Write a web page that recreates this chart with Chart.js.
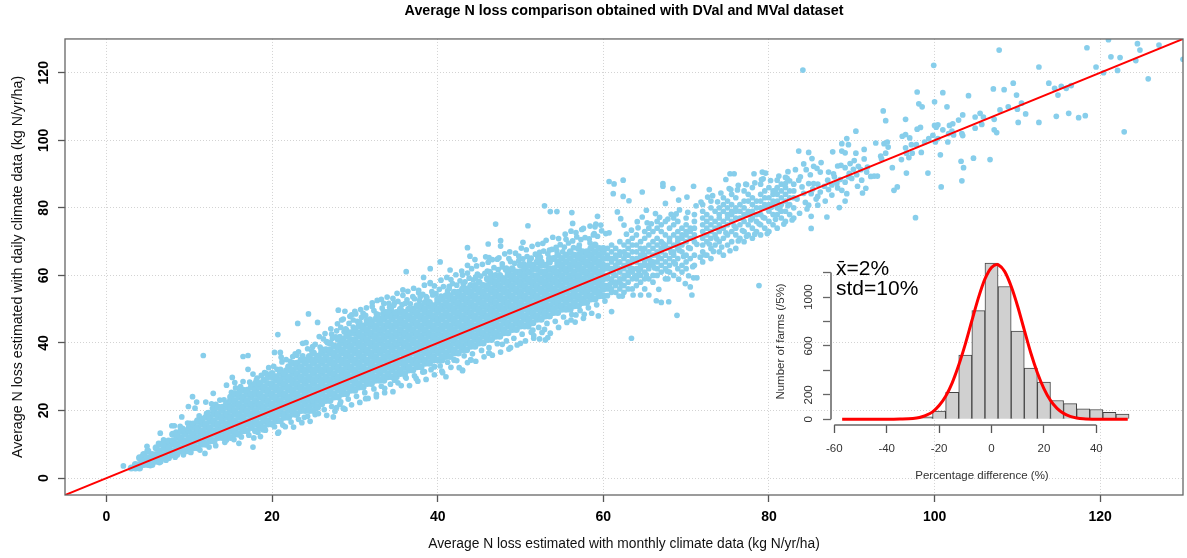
<!DOCTYPE html>
<html><head><meta charset="utf-8">
<style>html,body{margin:0;padding:0;background:#fff;overflow:hidden}#m{position:absolute;left:0;top:0}#i{position:absolute;left:760px;top:250px}</style>
<script src="https://cdn.jsdelivr.net/npm/chart.js@4"></script>
</head><body>
<canvas id="m" width="1187" height="558"></canvas>
<canvas id="i" width="400" height="240"></canvas>
<script>
const titleText="Average N loss comparison obtained with DVal and MVal dataset";
const xTitle="Average N loss estimated with monthly climate data (kg N/yr/ha)";
const yTitle="Average N loss estimated with daily climate data (kg N/yr/ha)";
const mainXTicks=[0,20,40,60,80,100,120];
const mainYTicks=[0,20,40,60,80,100,120];
const refX=[-5,130];
const refY=[-5,130];
// dense cloud, read column by column: [x, y, y, ...]
const bandColumns=[
[3,3],[3.5,3,4],[4,3,4,6],[4.5,4,5,7],[5,4,5,6,8],[5.5,4,6,7],[6,5,6,7,9],[6.5,5,7,8,10],[7,6,7,9,10],[7.5,6,8,9,11],
[8,7,8,10,11,13],[8.5,7,9,10,12,13],[9,8,9,11,12,14],[9.5,8,10,11,13,14],[10,8,9,11,12,14,15],[10.5,9,10,12,13,15,16],
[11,9,11,12,14,15,17],[11.5,10,11,13,14,16,17],[12,10,12,13,15,16,18],[12.5,11,12,14,15,17,18],[13,11,13,14,16,17,19,20],
[13.5,12,13,15,16,18,19,21],[14,12,14,15,17,18,20,21],[14.5,12,13,15,16,18,19,21,22],[15,12,14,15,17,18,20,21,23,24],
[15.5,13,14,16,17,19,20,22,23,25],[16,13,15,16,18,19,21,22,24,25],[16.5,14,15,17,18,20,21,23,24,26],[17,14,16,17,19,20,22,23,25,26],
[17.5,15,16,18,19,21,22,24,25,27],[18,14,16,17,19,20,22,23,25,26,28],[18.5,15,16,18,19,21,22,24,25,27,28],[19,15,17,18,20,21,23,24,26,27,29],
[19.5,16,17,19,20,22,23,25,26,28,30],[20,16,18,19,21,22,24,25,27,28,30,31],[20.5,17,18,20,21,23,24,26,27,29,30],[21,17,19,20,22,23,25,26,28,29,31,32],
[21.5,18,19,21,22,24,25,27,28,30,31],[22,18,20,21,23,24,26,27,29,30,32,33],[22.5,19,20,22,23,25,26,28,29,31,32,34],[23,19,21,22,24,25,27,28,30,31,33,34],
[23.5,20,21,23,24,26,27,29,30,32,33,35],[24,20,22,23,25,26,28,29,31,32,34,35],[24.5,20,21,23,24,26,27,29,30,32,33,35,36],[25,20,22,23,25,26,28,29,31,32,34,35,37],
[25.5,21,23,24,26,27,29,30,32,33,35,36],[26,22,23,25,26,28,29,31,32,34,35,37,38],[26.5,23,24,26,27,29,30,32,33,35,36,38],[27,23,25,26,28,29,31,32,34,35,37,38,40],
[27.5,24,25,27,28,30,31,33,34,36,37,39],[28,24,26,27,29,30,32,33,35,36,38,39,41],[28.5,25,26,28,29,31,32,34,35,37,38,40,41],[29,25,27,28,30,31,33,34,36,37,39,40,42],
[29.5,26,27,29,30,32,33,35,36,38,39,41,43],[30,26,28,29,31,32,34,35,37,38,40,41,43,44],[30.5,27,28,30,31,33,34,36,37,39,40,42,43,45],[31,27,29,30,32,33,35,36,38,39,41,42,44,45],
[31.5,28,29,31,32,34,35,37,38,40,41,43,44,46],[32,28,30,31,33,34,36,37,39,40,42,43,45,46],[32.5,29,30,32,33,35,36,38,39,41,42,44,45,47],[33,29,31,32,34,35,37,38,40,41,43,44,46,47],
[33.5,29,30,32,33,35,36,38,39,41,42,44,45,47,48],[34,30,31,33,34,36,37,39,40,42,43,45,46,48,49],[34.5,30,32,33,35,36,38,39,41,42,44,45,47,48],[35,30,31,33,34,36,37,39,40,42,43,45,46,48,49],
[35.5,31,32,34,35,37,38,40,41,43,44,46,47,49,50],[36,31,33,34,36,37,39,40,42,43,45,46,48,49],[36.5,32,33,35,36,38,39,41,42,44,45,47,48,50],[37,32,34,35,37,38,40,41,43,44,46,47,49,50],
[37.5,33,34,36,37,39,40,42,43,45,46,48,49,51],[38,33,35,36,38,39,41,42,44,45,47,48,50,51],[38.5,34,35,37,38,40,41,43,44,46,47,49,50,52],[39,34,36,37,39,40,42,43,45,46,48,49,51,52],
[39.5,35,36,38,39,41,42,44,45,47,48,50,51],[40,35,37,38,40,41,43,44,46,47,49,50,52,53],[40.5,35,36,38,39,41,42,44,45,47,48,50,51,53],[41,36,37,39,40,42,43,45,46,48,49,51,52,54],
[41.5,36,38,39,41,42,44,45,47,48,50,51,53,54],[42,37,38,40,41,43,44,46,47,49,50,52,53,55],[42.5,37,39,40,42,43,45,46,48,49,51,52,54,55],[43,38,39,41,42,44,45,47,48,50,51,53,54,56],
[43.5,38,40,41,43,44,46,47,49,50,52,53,55,56],[44,39,40,42,43,45,46,48,49,51,52,54,55,57],[44.5,39,41,42,44,45,47,48,50,51,53,54,56,57],[45,40,41,43,44,46,47,49,50,52,53,55,56,58],
[45.5,40,42,43,45,46,48,49,51,52,54,55,57],[46,41,42,44,45,47,48,50,51,53,54,56,57,59],[46.5,41,43,44,46,47,49,50,52,53,55,56,58,59],[47,42,43,45,46,48,49,51,52,54,55,57,58,60],
[47.5,42,44,45,47,48,50,51,53,54,56,57,59,60],[48,43,44,46,47,49,50,52,53,55,56,58,59],[48.5,43,45,46,48,49,51,52,54,55,57,58,60,61],[49,44,45,47,48,50,51,53,54,56,57,59,60,62],
[49.5,44,46,47,49,50,52,53,55,56,58,59,61],[50,45,46,48,49,51,52,54,55,57,58,60,61,63],[50.5,45,47,48,50,51,53,54,56,57,59,60,62],[51,46,47,49,50,52,53,55,56,58,59,61,63],
[51.5,46,48,49,51,52,54,55,57,58,60,62,63],[52,47,48,50,51,53,54,56,57,59,60,62,64],[52.5,47,49,50,52,53,55,56,58,59,61,63,64],[53,48,49,51,52,54,55,57,58,60,61,63],
[53.5,48,50,51,53,54,56,57,59,60,62,64,65],[54,49,50,52,53,55,56,58,59,61,62,65],[54.5,49,51,52,54,55,57,58,60,61,63,64,66],[55,50,51,53,54,56,57,59,60,62,63,65],
[55.5,50,52,53,55,56,58,59,61,62,64,66],[56,50,51,53,54,56,57,59,60,62,63,65,67],[56.5,51,52,54,55,57,58,60,61,63,64,66],[57,51,53,54,56,57,59,60,62,63,65,66,68],
[57.5,52,53,55,56,58,59,61,62,64,65,67],[58,52,54,55,57,58,60,61,63,64,66,67],[58.5,53,54,56,57,59,60,62,63,65,66,68],[59,53,55,56,58,59,61,62,64,65,67,69],
[59.5,54,55,57,58,60,61,63,64,66,68],[60,54,56,57,59,60,62,63,65,67,68]
];
const sparseColumns=[
[60.5,54,56,57,59,60,62,63,65,66,68],[61,55,56,58,59,61,62,64,65,67,69],[61.5,55,57,58,60,62,63,65,66,68],[62,56,58,59,61,62,64,66,67,70],[62.5,55,57,59,60,62,63,65,67,69],
[63,56,58,60,61,63,64,66,68,70],[63.5,56,59,61,62,64,65,67,69,71],[64,57,59,60,62,64,65,67,69,72],[64.5,58,60,62,63,65,66,68,70],[65,56,59,61,63,64,66,68,71,73],
[65.5,59,62,63,65,67,69,72,74],[66,58,60,63,64,66,68,70,73],[66.5,60,62,64,66,67,69,71,74,76],[67,61,63,65,67,68,70,73,75],[67.5,59,62,64,66,68,69,72,76],
[68,61,63,65,68,70,71,74],[68.5,60,64,66,67,69,72,75,77],[69,62,65,68,70,71,73,76],[69.5,61,63,67,69,71,72,74],[70,62,64,66,70,72,73,75,77],[70.5,65,68,71,73,74],
[71,63,66,70,72,74,76,78],[72,64,67,69,71,73,75,77,79,81],[72.5,66,70,72,74,76,78],[73,65,68,71,73,75,77,80,82],[73.5,69,72,74,76,79],[74,67,70,73,75,77,78,80],
[74.5,66,71,74,76,79,81,83],[75,69,72,75,77,78,80,82],[75.5,70,73,76,78,79,81,84],[76,68,72,74,77,79,80,83],[76.5,71,75,77,79,81],[77,70,73,76,78,80,82,85],
[77.5,72,75,78,79,82,84],[78,71,74,77,79,81,83,86],[78.5,73,76,78,80,82],[79,72,75,78,80,82,84,87],[79.5,74,77,80,81,83,85],[80,73,76,79,81,83,86],
[80.5,75,78,81,82,84,85],[81,74,78,80,82,84,86],[81.5,77,79,81,83,85,87],[82,76,79,82,84,86,89],[82.5,78,81,83,85,88],[83,77,80,83,85,87]
];
// individually read points: x, y, x, y, ...
const fringePairs=[
107.8,126.7,118.4,127.4,121,129.8,124.5,128.6,127.1,128.2,124.8,126.7,121.3,124.7,122.4,124.5,130,124,119.5,121.7,112.6,121.7,99.9,122.2,124.3,123.6,120.4,120,122.1,120.7,125.8,118.2,84.1,120.8,
109.5,116.9,113.8,116.9,114.5,115.4,115.3,116,115.9,115.4,116.5,116.2,114.9,113.4,107.1,115.2,108.4,115,109.9,113.4,110.5,111,108.9,109.9,107.9,109,110,109.2,111,107.8,110.1,105.3,112.6,105.3,114.7,107.1,116.2,108,117.4,106.7,118.2,107.3,122.9,102.5,
104.1,113.2,101,114.1,97.9,114.3,100,111.4,101.5,109.9,98.1,110.8,98.5,109.9,93.8,108.7,94.1,105.8,96.5,106.2,103.4,107.5,102.9,106,102.2,104.9,101.8,104.4,104.9,106.9,105.5,108,105.9,106.9,107.2,106.2,105.7,104.7,104.9,103.6,107.2,103.1,107.5,102.3,
100,104.4,100.4,104.6,100.2,103.9,101,103.1,97.9,103.3,98.3,103.8,102.1,102.7,101.7,102,103.3,102,103.4,101.4,102.3,101.6,99.8,101.5,99.3,100.5,98.8,99.5,100.1,99.5,100.4,100.5,101.6,99.5,96.1,101.2,96.5,101.7,97,100.7,90.5,102.7,89.4,100.5,88.8,99,89.6,98.7,
92.9,99.2,93.9,99,94.3,99.5,94.4,98,91.5,97.3,90.5,96.2,88.8,96.8,89.2,96.3,87.7,96.6,84.8,96.4,83.6,96.8,91.5,94.5,93.5,95.3,94.1,96.2,93.6,94.5,96.5,97.8,97.2,98.7,97.8,98.7,98.4,96.4,97.3,96.2,96.6,96.2,96,94.3,96.9,94.9,100.7,95.7,
103.2,93.8,104.7,94.7,106.7,94.3,103.5,91.9,103.3,88,100.8,86.2,99.2,90.3,96.6,90.3,94.9,91.9,93.1,89.4,92.7,89.4,92.3,89.3,91.9,92.1,91.1,91.3,90.6,89.8,91.8,90.6,90.3,94,89.8,93.1,89.2,91.9,88.7,92.6,88.3,92.4,86.3,93.4,85.8,91.7,85.2,94.6,84.5,91.3,85,89.8,
87.2,90.6,87.8,90.1,87.9,89.2,87.1,88.2,89.6,89.2,90,88.7,91.2,88.2,90.7,86.4,91.7,85.8,91.3,84.4,95.5,86.2,95.1,85.2,89.4,84.2,88.8,85.2,88.3,85.9,87.6,83.8,89.2,82,88.5,80.1,86.8,82,85.9,80.8,85.9,83.4,85.1,84.2,84.8,80.8,84.4,81.6,84.8,87.2,85.4,87.2,85.9,87,84,86.2,83.6,88.2,85.1,77.5,87,77.3,97.7,77.1,85.1,73.9,
60.7,87.8,61.3,87.1,62.4,88.2,61.2,84.2,62.4,83.4,63.1,82.1,64.7,84.7,67.2,87.2,67.2,86.4,68.4,85.7,70.9,86.4,69.1,82.3,70.1,83.2,67.5,81.3,72.8,85.4,74.8,88.4,75.3,90.1,75.8,90.1,78.2,90.1,79.2,90.6,79.6,90.3,79.1,88.4,81,88.2,82.2,88.7,76.3,86.7,77.2,87,75.4,85.4,82,87.2,80.8,85.2,
78.8,57,68.9,48.2,63.4,41.4,67.9,52.2,67,52,66.4,52.5,70.7,54.2,69.9,57.6,70.5,56.6,70.9,59.3,71.3,59.3,70.3,59.9,69.1,58.9,67.8,59,66.7,55.9,65.5,54.2,64.5,54.2,63.6,54.2,62.3,53.9,61.9,53.9,61,49.3,59.4,48,57.7,48.5,56.7,48.3,56.1,46.8,53.3,41.6,53,40.9,52.3,41.2,51.6,41.4,52.9,44,51.5,43.8,51,44.8,50,39.9,48.8,38.6,47.8,39.6,46.2,37,44,35,43,32,42,35,39.6,33,
52.9,80.6,53.6,78.9,54.4,78.9,56.2,78.6,56.3,75.4,47,75.2,50.9,74.7,59.3,77.5,59,74.4,57.4,73.6,58.9,72.4,60.7,72.6,61.7,78.8,62.1,76.8,62.5,74.9,65.2,79.3,64.7,77.3,64.1,75.9,65.3,75.6,66.3,78.3,68.2,78.1,55.5,70.7,50.3,69.8,52.7,69.5,47.6,70.3,47.6,68.7,46.1,69.3,43.6,68.2,43.9,65.7,44.5,64.7,45.8,65.5,46.2,65.3,47.2,64.8,49.8,65.7,51.1,64.3,52.1,65.3,53.5,67.5,55.1,67,57.1,69,40.3,64,39.1,62,36.2,61.1,41.5,61.6,43.6,63,38.3,59.4,35.8,55.7,39.1,57.6,41.4,56.8,43,60.1,44.6,59.6,46,61.3,47.8,62.5,48.6,65,50.7,61.6,37,53.7,37.7,54.9,38.6,53.7,40.4,53.9,
11.7,36.3,16.5,36,17.1,36.3,20.7,42.5,23.1,45.8,24.4,48.6,25.5,46.1,20.3,37.2,21,37.2,21.1,35.8,22.5,36,23,36.4,17.1,32.2,17.7,30.8,15.2,29.8,16.5,28.6,14.5,27.5,15.5,28.3,12.9,25.1,10.4,24.1,10.9,22.5,12,22.5,12.7,22,9.9,21.2,10.7,20.7,9.1,18.1,7.9,15.5,8.2,15.5,6.5,13.3,6.3,10.3,6.9,11.3,4.9,9.4,4.3,6.4,2.05,3.6,23.7,39.9,24.1,40.1,24.9,38.9,25.7,41.9,26.6,40.4,27.8,43.6,28,49.7,28.8,49.4,30,49.4,28.4,46.8,29.6,48.3,31,48.8,32.1,51.9,33.5,51.7,34.1,51.7,34.8,51.9,33.4,48.8,34.4,49.3,29.8,46.8,31.4,46.8,29,43.8,28.2,41.9,27.4,39.4,25.7,36.4,23.3,33,21.7,32,19.3,31,18.1,29,16.1,26.1,13.7,23.1,12.1,19.2,10.1,16.2,8.9,15.3,7.3,10.3,
11.9,7.3,17.7,9.2,17.8,11.9,18.6,12.3,20.7,13.3,16,10.3,14.5,11.3,18.9,14.3,23.9,18,27.4,18.1,27.8,20.9,28.8,20.4,28.2,21.9,22.9,18.7,25.3,20.7,31.3,23.5,32.6,24.8,33.6,26.6,34.8,29,36.1,30,37.4,29.5,40.5,31.7,41,30,43,31.8,39.6,33,42,35,44,35,46.2,37,38.4,31.5,
8.4,13.6,9.2,14.7,9.8,16.3,10.3,15.9,11.2,18.4,11.6,17.6,12.3,19.4,12.8,20.6,13.2,21.8,13.7,20.9,14.2,23.2,14.8,22.6,15.1,25.4,15.6,26.7,16.2,27.1,16.7,25.9,17.3,28.4,17.8,27.6,18.2,29.6,18.7,30.4,19.1,31.2,19.6,32.7,20.2,33.1,20.6,32.2,21.2,34.4,21.7,35.1,22.2,34.6,22.8,36.8,23.2,37.4,23.7,36.2,24.3,38.3,24.8,37.6,25.2,39.6,25.8,38.8,26.2,41.2,26.7,40.1,27.2,42.6,27.7,41.8,28.3,44.6,28.7,43.3,29.3,45.8,29.8,44.7,30.3,46.4,30.8,47.6,31.3,48.2,31.8,47.1,32.3,49.6,32.8,48.4,33.3,50.3,33.7,49.2,34.2,50.6,34.7,51.2,35.2,52.3,35.7,51.4,36.3,52.8,36.7,51.6,37.2,53.1,37.8,52.6,38.2,54.4,38.7,53.4,39.3,55.2,39.8,54.6,40.2,55.9,40.7,56.7,41.2,55.4,41.8,57.6,42.3,57.1,42.7,58.4,43.3,58.1,43.8,59.2,44.3,58.7,44.8,60.4,45.2,59.8,45.7,60.6,46.3,61.1,46.8,62.3,47.3,61.7,47.8,63.4,48.3,62.2,48.8,64.1,49.3,63.6,49.8,64.4,50.3,64.9,50.8,65.6,51.3,65.1,51.8,66.3,52.3,66.8,52.8,67.2,53.3,66.4,53.8,67.7,54.3,68.3,54.8,69.1,55.3,68.4,55.8,69.6,56.3,70.2,56.8,71.4,57.3,70.6,57.8,71.2,58.3,70.8,58.8,72,59.3,71.6,59.8,73.2,60.3,72.4,
5.3,3.7,6.4,4.6,7.2,5.3,8.3,6.2,9.3,6.9,10.2,7.6,11.3,8.3,12.4,9.2,13.2,9.6,14.3,10.6,15.4,11.4,16.3,12.2,17.2,12.7,18.3,13.6,19.2,14.2,20.3,15.2,21.3,15.7,22.3,16.6,23.2,17.4,24.3,18.3,25.2,18.8,26.3,20.3,27.2,21.2,28.3,22.6,29.2,23.4,30.2,24.2,31.2,25.3,32.3,26.4,33.2,27.2,34.3,27.8,35.2,28.2,36.2,29.6,37.2,30.3,38.2,31.4,39.2,32.1,40.3,33.2,41.2,34.3,42.3,34.8,43.2,36.2,44.2,36.8,45.3,37.8,46.2,38.6,47.2,39.8,48.3,40.6,49.2,41.4,50.2,42.6,51.3,43.2,52.2,44.6,53.2,45.8,54.2,46.4,55.2,47.7,56.2,48.4,57.2,49.6,58.2,50.4,59.2,51.3,60.2,52.4,
62.8,72.2,63.4,73.4,64.2,74.1,65.8,75.3,66.8,77.2,67.8,76.7,68.8,78.2,69.2,79.4,70.2,78.7,71.2,80.6,71.8,81.7,72.6,83.2,73.2,83.6,73.8,81.8,74.2,84.4,75.2,85.7,76.2,85.3,77.3,86.9,78.3,87.4,79.3,88.6,80.2,88.1,81.2,89.4,82.3,90.7,83.2,91.3,83.8,89.2,84.2,93,85.4,92.3,86.2,90.6,
26.4,42.8,27.1,44.2,27.9,45.7,28.6,47.1,29.4,47.9,30.1,48.6,30.7,49.9,31.4,50.4,32.1,50.8,32.7,52.6,33.2,52.9,33.9,53.6,34.6,53.2,35.1,54.7,35.8,54.1,36.4,55.3,37.1,56.2,37.7,55.6,38.4,57.1,39.1,57.9,39.6,56.9,40.4,58.6,41.1,59.4,41.6,58.8,42.2,60.2,42.9,61.3,43.6,60.7,44.1,62,44.7,62.8,45.4,63.3,46.1,63.9,46.6,64.7,47.4,65.2,48.1,66.4,48.7,67,49.4,66.6,50.1,68.1,50.7,67.6,51.4,68.6,52.1,69.2,53.1,70.4,53.9,71.3,54.6,70.9,55.4,72.2,56.1,73.1,56.7,72.7,57.6,73.9,58.4,74.6,59.1,75.2,59.7,74.9,
27.3,41.4,28.9,44.2,30.6,46.2,32.6,48.6,34.4,50.2,36.1,51.7,37.9,53.7,39.4,54.2,41.4,56.2,43.1,57.4,44.6,59.3,46.4,60.6,48.2,61.7,50.4,63.4,52.4,65.4,54.4,67.2,56.4,68.2,58.4,69.6,
20.8,13.6,22.6,15.1,24.6,16.8,26.6,18.6,28.6,20.7,30.6,22.4,32.6,24.1,34.6,25.6,36.6,27.4,38.6,29.2,40.6,31.2,42.6,32.7,44.6,34.6,46.6,36.4,48.6,38.2,50.6,40.6,52.6,43.1,54.6,44.6,56.6,46.2,58.6,48.8,
21.6,15.2,23.6,16.4,25.6,19.1,27.6,19.8,29.6,21.7,31.6,23.6,33.6,25.3,35.6,27.4,37.6,28.7,39.6,30.6,41.6,32.8,43.6,34.2,45.6,35.9,47.6,37.3,49.6,39.4,51.6,42.2,53.6,42.9,55.6,46.1,57.6,47.3,
60.8,57.3,61.3,60.4,61.8,63.7,62.2,57.2,62.7,66.2,63.2,62.4,63.8,59.6,64.3,61.3,64.8,67.4,65.2,60.2,65.7,64.3,66.2,62.2,66.7,65.3,67.2,69.4,67.7,61.3,68.2,66.8,68.7,63.4,69.2,67.4,69.7,65.6,70.3,68.2,70.8,62.6,71.3,69.2,71.7,65.4,72.2,66.1,72.8,69.3,73.3,67.1,73.7,70.8,74.3,68.4,74.8,72.6,75.3,67.3,75.8,74.7,76.3,70.2,76.8,73.3,77.3,71.6,77.8,76.4,78.3,72.2,78.8,75.3,79.3,77.2,79.8,72.4,80.3,80.2,80.8,76.6,81.3,79.7,81.8,75.2,82.3,80.6,82.8,76.4,83.4,82.6,83.7,78.4,84.2,84.3,84.6,79.7,85.3,85.6,85.7,82.6,86.2,84.7,86.7,86.4,87.2,85.4,87.6,86.8,88.2,87.3,88.6,88.4,89.2,87.6,89.7,90.2,90.2,91.4,90.8,92.3
];
const histBinCentres=[-25,-20,-15,-10,-5,0,5,10,15,20,25,30,35,40,45,50];
const histCounts=[20,67,221,525,889,1277,1086,722,420,305,154,129,86,81,57,43];
const curveX=[-57,-40,-35,-30,-27.5,-25,-22.5,-20,-17.5,-15,-12.5,-10,-7.5,-5,-2.5,0,2,2.5,5,7.5,10,12.5,15,17.5,20,22.5,25,27.5,30,32.5,35,40,52];
const curveY=[0,1,3,8,16,33,61,113,189,299,444,615,806,993,1148,1242,1267,1265,1210,1088,923,731,543,382,252,155,90,49,25,12,5,1,0];
const insetXTicks=[-60,-40,-20,0,20,40];
const insetYTicks=[0,200,400,600,800,1000,1200];
const insetYLabels=[0,200,600,1000];
const insetXTitle="Percentage difference (%)";
const insetYTitle="Number of farms (/5%)";
const noteLines=["x\u0304=2%","std=10%"];

const FONT="'Liberation Sans',Arial,sans-serif";
const core=[];
bandColumns.forEach(c=>{for(let k=1;k<c.length;k++)core.push({x:c[0],y:c[k]});});
const loose=[];
sparseColumns.forEach(c=>{for(let k=1;k<c.length;k++)loose.push({x:c[0],y:c[k]});});
for(let k=0;k<fringePairs.length;k+=2)loose.push({x:fringePairs[k],y:fringePairs[k+1]});

Chart.defaults.animation=false;
Chart.defaults.font.family=FONT;

const framePlugin={id:'frame',afterDraw(c){const a=c.chartArea,g=c.ctx;g.save();g.strokeStyle='#666';g.lineWidth=1.3;g.strokeRect(a.left,a.top,a.right-a.left,a.bottom-a.top);g.restore();}};
new Chart(document.getElementById('m'),{
 type:'scatter',
 plugins:[framePlugin],
 data:{datasets:[
  {label:'1:1',data:refX.map((x,k)=>({x,y:refY[k]})),showLine:true,pointRadius:0,borderColor:'#f00',borderWidth:2,order:0},
  {label:'farms dense',data:core,pointRadius:3.5,pointBorderWidth:0,pointBackgroundColor:'#87CEEB',showLine:false,order:1},
  {label:'farms',data:loose,pointRadius:2.85,pointBorderWidth:0,pointBackgroundColor:'#87CEEB',showLine:false,order:2}
 ]},
 options:{responsive:false,animation:false,events:[],
  layout:{padding:{left:0,right:1,top:0,bottom:0}},
  plugins:{legend:{display:false},tooltip:{enabled:false},
   title:{display:true,text:titleText,fullSize:false,color:'#000',font:{size:14.3,weight:'bold',family:FONT,lineHeight:1.2},padding:{top:2.5,bottom:19.3}}},
  scales:{
   x:{type:'linear',min:-5,max:130,
    afterBuildTicks(s){s.ticks=mainXTicks.map(v=>({value:v}));},
    afterFit(s){s.height=63;},
    grid:{color:'#d3d3d3',lineWidth:1,tickLength:7,tickColor:'#555',tickWidth:1.3,tickBorderDash:[]},
    border:{display:false,dash:[1,2]},
    ticks:{color:'#000',font:{size:14,weight:'bold'},padding:7,maxRotation:0,autoSkip:false},
    title:{display:true,text:xTitle,color:'#111',font:{size:13.8},padding:{top:0,bottom:5.5}}},
   y:{type:'linear',min:-5,max:130,
    afterBuildTicks(s){s.ticks=mainYTicks.map(v=>({value:v}));},
    afterFit(s){s.width=65;},
    grid:{color:'#d3d3d3',lineWidth:1,tickLength:7,tickColor:'#555',tickWidth:1.3,tickBorderDash:[]},
    border:{display:false,dash:[1,2]},
    ticks:{color:'#000',font:{size:14,weight:'bold'},padding:2,minRotation:90,maxRotation:90,crossAlign:'center',autoSkip:false},
    title:{display:true,text:yTitle,color:'#111',font:{size:14.2},padding:{top:10,bottom:0}}}
  }}
});

const insetPlugin={id:'inset',afterDraw(c){
 const g=c.ctx,x=c.scales.x,y=c.scales.y,a=c.chartArea;g.save();
 g.strokeStyle='#666';g.lineWidth=1.3;
 g.beginPath();g.moveTo(x.getPixelForValue(insetXTicks[0]),a.bottom);g.lineTo(x.getPixelForValue(insetXTicks[insetXTicks.length-1]),a.bottom);g.stroke();
 g.strokeStyle='#888';g.lineWidth=2;
 g.beginPath();g.moveTo(a.left,y.getPixelForValue(insetYTicks[0]));g.lineTo(a.left,y.getPixelForValue(insetYTicks[insetYTicks.length-1]));g.stroke();
 g.fillStyle='#000';g.font="21px "+FONT;g.textBaseline='alphabetic';g.textAlign='left';
 g.fillText(noteLines[0],76,25);g.fillText(noteLines[1],76,45);
 g.restore();}};
new Chart(document.getElementById('i'),{
 type:'bar',
 plugins:[insetPlugin],
 data:{datasets:[
  {type:'line',data:curveX.map((x,k)=>({x,y:curveY[k]})),borderColor:'#f00',borderWidth:3,pointRadius:0,tension:0.4,cubicInterpolationMode:'monotone',order:0},
  {type:'bar',data:histBinCentres.map((x,k)=>({x,y:histCounts[k]})),backgroundColor:'#d0d0d0',borderColor:'#444',borderWidth:1,barPercentage:1,categoryPercentage:1,order:1}
 ]},
 options:{responsive:false,animation:false,events:[],
  layout:{padding:{left:0,right:27,top:6,bottom:0}},
  plugins:{legend:{display:false},tooltip:{enabled:false}},
  scales:{
   x:{type:'linear',min:-61.26,max:54,offset:false,
    afterBuildTicks(s){s.ticks=insetXTicks.map(v=>({value:v}));},
    afterFit(s){s.height=65;},
    grid:{offset:false,drawOnChartArea:false,tickLength:8,tickColor:'#555',tickWidth:1.3},
    border:{display:false},
    ticks:{color:'#333',font:{size:11.5},padding:9,maxRotation:0,autoSkip:false},
    title:{display:true,text:insetXTitle,color:'#333',font:{size:11.5},padding:{top:0,bottom:7.5}}},
   y:{type:'linear',min:-46,max:1320,
    afterBuildTicks(s){s.ticks=insetYTicks.map(v=>({value:v}));},
    afterFit(s){s.width=71;},
    grid:{drawOnChartArea:false,tickLength:8,tickColor:'#666',tickWidth:1.3},
    border:{display:false},
    ticks:{color:'#333',font:{size:11.5},padding:1,minRotation:90,maxRotation:90,crossAlign:'center',autoSkip:false,callback(v){return insetYLabels.includes(v)?String(v):'';}},
    title:{display:true,text:insetYTitle,color:'#333',font:{size:11.5},padding:{top:14.4,bottom:0}}}
  }}
});
</script>
</body></html>
